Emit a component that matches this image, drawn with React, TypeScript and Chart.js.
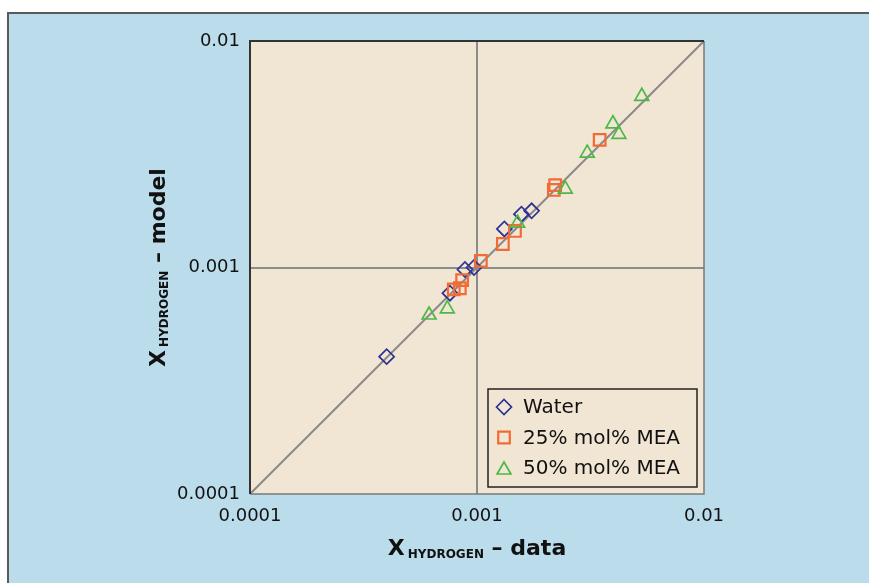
import React, { useEffect, useRef } from "react";
import { Chart, registerables } from "chart.js";
import { drawPoint } from "chart.js/helpers";

Chart.register(...registerables);

// ---- data ----
const tickValues = [0.0001, 0.001, 0.01];
const tickLabels = ["0.0001", "0.001", "0.01"];
const gridValues = [0.001];

const seriesNames = ["Water", "25% mol% MEA", "50% mol% MEA"];

const waterX = [0.0004, 0.00076, 0.000885, 0.00097, 0.00132, 0.00157, 0.00174];
const waterY = [0.000404, 0.00077, 0.00098, 0.001, 0.00148, 0.00172, 0.00178];

const mea25X = [0.00079, 0.00084, 0.00086, 0.00104, 0.0013, 0.00147, 0.00221, 0.00218, 0.00347];
const mea25Y = [0.0008, 0.00081, 0.00088, 0.00107, 0.00127, 0.00145, 0.00231, 0.0022, 0.00366];

const mea50X = [0.000615, 0.00074, 0.00151, 0.00245, 0.00306, 0.00397, 0.00422, 0.00532];
const mea50Y = [0.000617, 0.000657, 0.00157, 0.00222, 0.0032, 0.00431, 0.00387, 0.0057];

const parityLine = [0.0001, 0.01];

// ---- styles ----
const OUTER_BG = "#BBDCEA";
const PLOT_BG = "#F1E6D3";
const NAVY = "#2E3192";
const ORANGE = "#F26A36";
const GREEN = "#4DB848";
const FONT = '"DejaVu Sans", "Liberation Sans", sans-serif';

const pts = (xs: number[], ys: number[]) => xs.map((x, i) => ({ x, y: ys[i] }));

const markerDefs = [
  { style: "rectRot", color: NAVY, radius: 7.5, width: 1.7 },
  { style: "rect", color: ORANGE, radius: 8.2, width: 2.2 },
  { style: "triangle", color: GREEN, radius: 8, width: 1.7 },
];

function drawTitle(
  ctx: CanvasRenderingContext2D,
  cx: number,
  baseline: number,
  main: string,
  sub: string,
  rest: string
) {
  const fMain = `bold 22px ${FONT}`;
  const fSub = `bold 12px ${FONT}`;
  ctx.font = fMain;
  const wMain = ctx.measureText(main).width;
  const wRest = ctx.measureText(rest).width;
  ctx.font = fSub;
  const wSub = ctx.measureText(sub).width;
  const gap = 3;
  const total = wMain + gap + wSub + wRest;
  let x = cx - total / 2;
  ctx.textAlign = "left";
  ctx.textBaseline = "alphabetic";
  ctx.fillStyle = "#111";
  ctx.font = fMain;
  ctx.fillText(main, x, baseline);
  x += wMain + gap;
  ctx.font = fSub;
  ctx.fillText(sub, x, baseline + 3);
  x += wSub;
  ctx.font = fMain;
  ctx.fillText(rest, x, baseline);
}

const decorPlugin = {
  id: "decor",
  beforeDraw(chart: any) {
    const { ctx, chartArea: a } = chart;
    ctx.save();
    ctx.fillStyle = PLOT_BG;
    ctx.fillRect(a.left, a.top, a.right - a.left, a.bottom - a.top);
    ctx.restore();
  },
  afterDraw(chart: any) {
    const { ctx, chartArea: a } = chart;
    ctx.save();
    // plot frame
    ctx.lineWidth = 1.5;
    ctx.strokeStyle = "#7a7a7a";
    ctx.beginPath();
    ctx.moveTo(a.right, a.top);
    ctx.lineTo(a.right, a.bottom);
    ctx.lineTo(a.left, a.bottom);
    ctx.stroke();
    ctx.lineWidth = 2;
    ctx.strokeStyle = "#333";
    ctx.beginPath();
    ctx.moveTo(a.left, a.bottom);
    ctx.lineTo(a.left, a.top);
    ctx.lineTo(a.right, a.top);
    ctx.stroke();

    // legend
    const lx = a.right - 216;
    const ly = a.bottom - 105;
    ctx.fillStyle = PLOT_BG;
    ctx.fillRect(lx, ly, 209, 98);
    ctx.lineWidth = 1.5;
    ctx.strokeStyle = "#222";
    ctx.strokeRect(lx, ly, 209, 98);
    seriesNames.forEach((name, i) => {
      const m = markerDefs[i];
      const y = ly + 18 + i * 30.5;
      ctx.fillStyle = "rgba(0,0,0,0)";
      ctx.strokeStyle = m.color;
      ctx.lineWidth = m.width;
      drawPoint(ctx, { pointStyle: m.style, radius: m.radius, rotation: 0, borderWidth: m.width } as any, lx + 16, y + (m.style === "triangle" ? 2 : 0));
      ctx.fillStyle = "#111";
      ctx.font = `20px ${FONT}`;
      ctx.textAlign = "left";
      ctx.textBaseline = "middle";
      ctx.fillText(name, lx + 35, y + 1);
    });

    // axis titles
    const cx = (a.left + a.right) / 2;
    const cy = (a.top + a.bottom) / 2;
    drawTitle(ctx, cx, 555, "X", "HYDROGEN", " \u2013 data");
    ctx.translate(165, cy);
    ctx.rotate(-Math.PI / 2);
    drawTitle(ctx, 0, 0, "X", "HYDROGEN", " \u2013 model");
    ctx.restore();
  },
};

const gridColor = (c: any) => (gridValues.includes(c.tick?.value) ? "#8c8c8c" : "rgba(0,0,0,0)");
const tickCb = (v: any) => {
  const idx = tickValues.findIndex((t) => Math.abs(t - Number(v)) < t * 1e-6);
  return idx >= 0 ? tickLabels[idx] : "";
};

export default function App() {
  const ref = useRef<HTMLCanvasElement>(null);
  useEffect(() => {
    document.body.style.margin = "0";
    document.body.style.overflow = "hidden";
    document.documentElement.style.overflow = "hidden";
    if (!ref.current) return;
    const chart = new Chart(ref.current, {
      type: "scatter",
      data: {
        datasets: [
          {
            type: "line",
            label: "parity",
            data: parityLine.map((v) => ({ x: v, y: v })),
            borderColor: "#8a8a8a",
            borderWidth: 2,
            pointRadius: 0,
            order: 10,
          } as any,
          ...[pts(waterX, waterY), pts(mea25X, mea25Y), pts(mea50X, mea50Y)].map((d, i) => ({
            label: seriesNames[i],
            data: d,
            pointStyle: markerDefs[i].style,
            pointRadius: markerDefs[i].radius,
            pointBorderWidth: markerDefs[i].width,
            borderColor: markerDefs[i].color,
            backgroundColor: "rgba(0,0,0,0)",
            order: 3 - i,
          })),
        ],
      },
      options: {
        responsive: false,
        animation: false,
        devicePixelRatio: 1,
        layout: { padding: { left: 0, top: 41, right: 165, bottom: 0 } },
        plugins: { legend: { display: false }, tooltip: { enabled: false } },
        scales: {
          x: {
            type: "logarithmic",
            min: 0.0001,
            max: 0.01,
            position: "bottom",
            afterBuildTicks: (s: any) => {
              s.ticks = tickValues.map((v) => ({ value: v }));
            },
            afterFit: (s: any) => {
              s.height = 89;
            },
            grid: { color: gridColor, lineWidth: 2, drawTicks: false },
            border: { display: false },
            ticks: {
              callback: tickCb,
              color: "#111",
              font: { family: FONT, size: 18 },
              padding: 12,
              maxRotation: 0,
              autoSkip: false,
            },
          },
          y: {
            type: "logarithmic",
            min: 0.0001,
            max: 0.01,
            afterBuildTicks: (s: any) => {
              s.ticks = tickValues.map((v) => ({ value: v }));
            },
            afterFit: (s: any) => {
              s.width = 250;
            },
            grid: { color: gridColor, lineWidth: 2, drawTicks: false },
            border: { display: false },
            ticks: {
              callback: tickCb,
              color: "#111",
              font: { family: FONT, size: 18 },
              padding: 10,
              autoSkip: false,
            },
          },
        },
      } as any,
      plugins: [decorPlugin],
    });
    return () => chart.destroy();
  }, []);

  return (
    <div style={{ position: "fixed", left: 0, top: 0, width: 869, height: 583, overflow: "hidden" }}>
      <div
        style={{
          position: "absolute",
          left: 7,
          top: 12,
          width: 900,
          height: 600,
          boxSizing: "border-box",
          background: OUTER_BG,
          borderTop: "2px solid #5a5a5a",
          borderLeft: "2px solid #5a5a5a",
        }}
      />
      <canvas
        ref={ref}
        width={869}
        height={583}
        style={{ position: "absolute", left: 0, top: 0, width: 869, height: 583 }}
      />
    </div>
  );
}
